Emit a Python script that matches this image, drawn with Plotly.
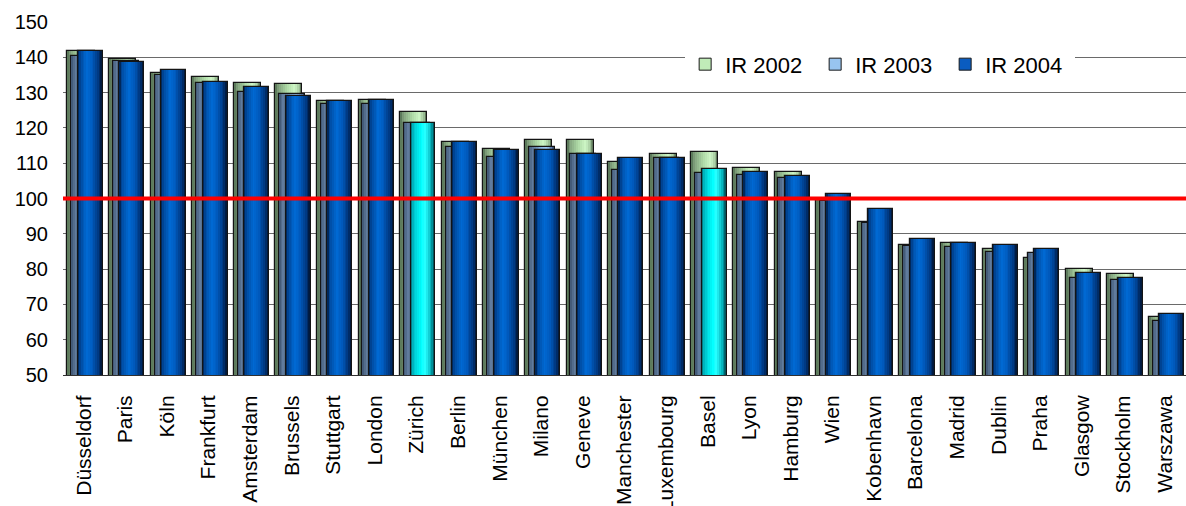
import plotly.graph_objects as go

# Index values per city for three report years
cities = ["Düsseldorf", "Paris", "Köln", "Frankfurt", "Amsterdam", "Brussels",
          "Stuttgart", "London", "Zürich", "Berlin", "München", "Milano",
          "Geneve", "Manchester", "Luxembourg", "Basel", "Lyon", "Hamburg",
          "Wien", "Kobenhavn", "Barcelona", "Madrid", "Dublin", "Praha",
          "Glasgow", "Stockholm", "Warszawa"]

ir2002 = [141.8, 139.4, 135.6, 134.4, 132.7, 132.3, 127.6, 127.8, 124.5, 116.0,
          114.1, 116.7, 116.7, 110.4, 112.5, 113.2, 108.7, 107.4, 99.6, 93.4,
          86.8, 87.3, 85.7, 83.2, 80.0, 78.6, 66.5]
ir2003 = [140.5, 139.0, 134.9, 132.6, 130.3, 129.7, 126.9, 126.9, 121.3, 114.5,
          111.8, 114.7, 112.5, 108.2, 111.6, 107.1, 106.6, 105.7, 99.3, 93.1,
          86.5, 86.2, 84.9, 84.5, 77.4, 76.9, 65.4]
ir2004 = [141.8, 138.8, 136.4, 133.1, 131.7, 128.9, 127.6, 127.8, 121.3, 116.0,
          113.7, 113.7, 112.5, 111.6, 111.6, 108.3, 107.4, 106.4, 101.4, 97.0,
          88.5, 87.3, 86.8, 85.6, 79.0, 77.4, 67.3]

highlighted = ["Zürich", "Basel"]
reference_level = 100
y_ticks = list(range(50, 151, 10))

# Cylinder-like shading: colour stops across the bar width (0 = left edge)
shade_2002 = [(0.0, (78, 108, 78)), (0.12, (128, 160, 124)), (0.45, (176, 220, 168)),
              (0.7, (206, 246, 198)), (0.88, (160, 196, 154)), (1.0, (96, 124, 92))]
shade_2003 = [(0.0, (60, 82, 112)), (0.15, (92, 118, 150)), (0.5, (140, 184, 232)),
              (0.7, (160, 202, 244)), (0.9, (96, 130, 180)), (1.0, (50, 70, 110))]
shade_2004 = [(0.0, (0, 26, 64)), (0.12, (0, 72, 156)), (0.38, (0, 106, 212)),
              (0.6, (0, 90, 190)), (0.85, (0, 54, 124)), (1.0, (0, 20, 52))]
shade_hi = [(0.0, (0, 96, 104)), (0.12, (0, 190, 200)), (0.45, (0, 255, 255)),
            (0.62, (40, 255, 255)), (0.85, (0, 170, 180)), (1.0, (0, 80, 88))]

N_STRIPS = 14


def shade(stops, t):
    for (t0, c0), (t1, c1) in zip(stops[:-1], stops[1:]):
        if t0 <= t <= t1:
            f = (t - t0) / (t1 - t0)
            c = [round(a + (b - a) * f) for a, b in zip(c0, c1)]
            return "rgb(%d,%d,%d)" % tuple(c)
    return "rgb(%d,%d,%d)" % stops[-1][1]


fig = go.Figure()


def add_series(name, values, offset, width, stops, legend_color, hi_stops=None):
    # base bar carries the legend entry
    fig.add_trace(go.Bar(
        x=cities, y=values, name=name, offset=offset, width=width,
        marker=dict(color=legend_color, line=dict(color="#1a1a1a", width=1)),
        hoverinfo="skip", showlegend=True))
    # shaded vertical strips
    sw = width / N_STRIPS
    for k in range(N_STRIPS):
        t = (k + 0.5) / N_STRIPS
        if hi_stops is None:
            col = shade(stops, t)
        else:
            col = [shade(hi_stops, t) if c in highlighted else shade(stops, t)
                   for c in cities]
        fig.add_trace(go.Bar(
            x=cities, y=values, offset=offset + k * sw,
            width=sw * 1.08 if k < N_STRIPS - 1 else sw,
            marker=dict(color=col, line=dict(width=0)),
            hoverinfo="skip", showlegend=False))
    # crisp outline on top
    fig.add_trace(go.Bar(
        x=cities, y=values, name=name, offset=offset, width=width,
        marker=dict(color="rgba(0,0,0,0)", line=dict(color="#141414", width=1.2)),
        hovertemplate="%{x}: %{y}<extra>" + name + "</extra>", showlegend=False))


add_series("IR 2002", ir2002, -0.392, 0.65, shade_2002, "#c0ecb8")
add_series("IR 2003", ir2003, -0.30, 0.62, shade_2003, "#98c4f0")
add_series("IR 2004", ir2004, -0.145, 0.60, shade_2004, "#0a5cc0", hi_stops=shade_hi)

fig.add_shape(type="line", xref="paper", x0=0, x1=1, yref="y",
              y0=reference_level, y1=reference_level,
              line=dict(color="#ff0000", width=4), layer="above")

fig.update_layout(
    width=1186, height=506,
    margin=dict(l=63, r=0, t=22, b=131),
    paper_bgcolor="white", plot_bgcolor="white",
    barmode="overlay", bargap=0,
    font=dict(family="Liberation Sans, Arial, sans-serif", color="black"),
    showlegend=True,
    legend=dict(orientation="h", x=0.554, xanchor="left", y=0.88, yanchor="middle",
                bgcolor="white", borderwidth=0, font=dict(size=22),
                entrywidth=85, entrywidthmode="pixels", traceorder="normal"),
    xaxis=dict(type="category", range=[-0.5, len(cities) - 0.5], tickangle=-90,
               tickfont=dict(size=21), showgrid=False, ticks="", zeroline=False,
               showline=True, linecolor="#303030", linewidth=1,
               ticklabelstandoff=11, automargin=False),
    yaxis=dict(range=[50, 150], tickvals=y_ticks, tickfont=dict(size=20),
               showgrid=True, gridcolor="#6a6a6a", gridwidth=1.2, ticks="",
               zeroline=False, showline=False, ticklabelstandoff=14,
               automargin=False),
)

fig.write_html("out.html")
